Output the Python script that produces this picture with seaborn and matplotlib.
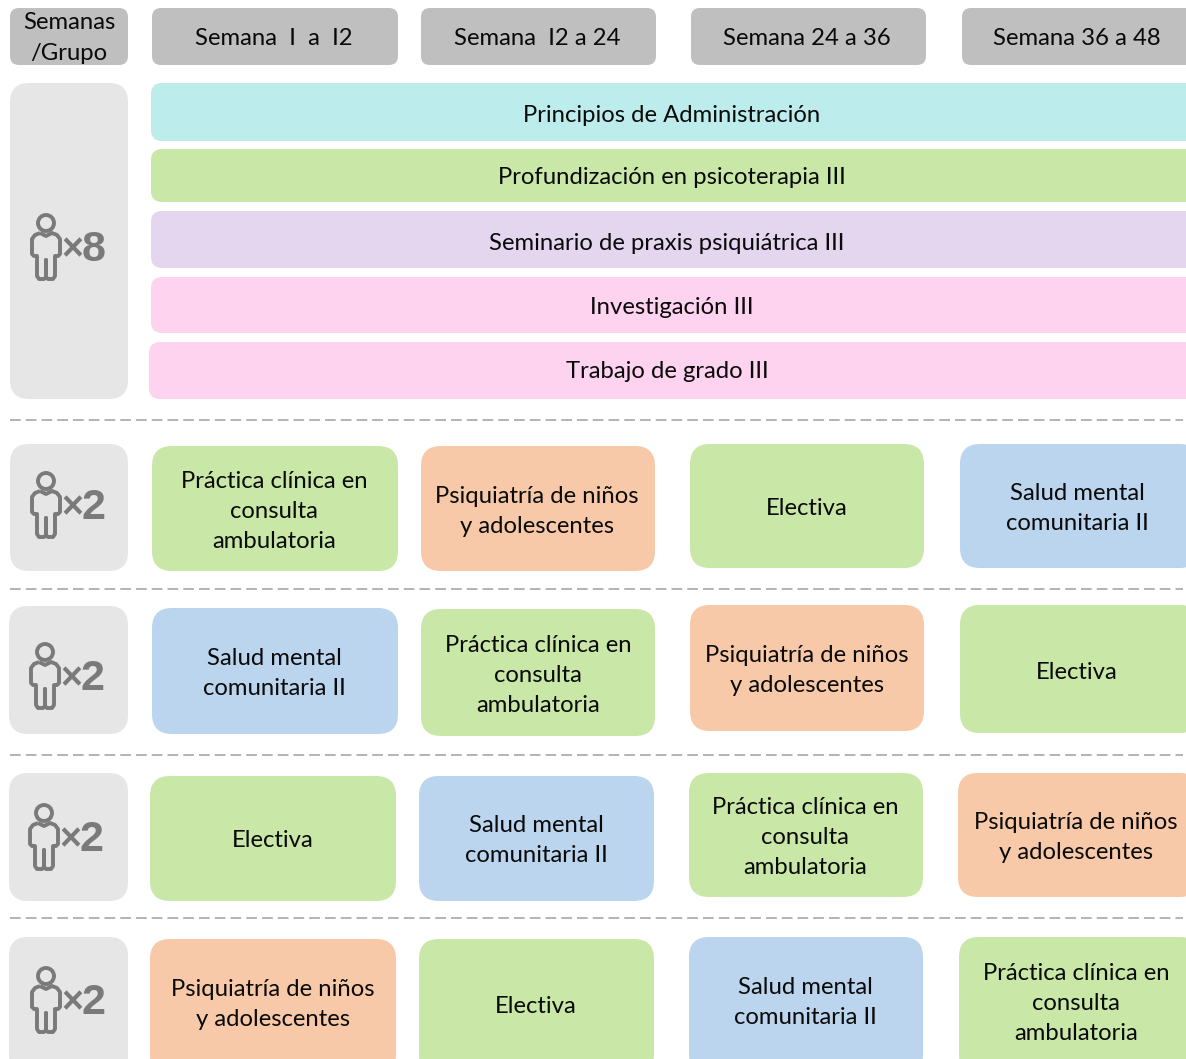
import matplotlib
matplotlib.use('Agg')
import matplotlib.pyplot as plt
import seaborn as sns
from matplotlib.patches import FancyBboxPatch, Circle, PathPatch
from matplotlib.path import Path

# Chart content
corner_label = 'Semanas\n/Grupo'
week_labels = ['Semana  I  a  I2', 'Semana  I2 a 24', 'Semana 24 a 36', 'Semana 36 a 48']
shared_courses = ['Principios de Administración', 'Profundización en psicoterapia III',
                  'Seminario de praxis psiquiátrica III', 'Investigación III', 'Trabajo de grado III']
group_sizes = ['8', '2', '2', '2', '2']

clinica = 'Práctica clínica en\nconsulta\nambulatoria'
ninos = 'Psiquiatría de niños\ny adolescentes'
electiva = 'Electiva'
salud = 'Salud mental\ncomunitaria II'
rotation_rows = [[clinica, ninos, electiva, salud],
                 [salud, clinica, ninos, electiva],
                 [electiva, salud, clinica, ninos],
                 [ninos, electiva, salud, clinica]]

# Colours
sns.set_theme(style='white')
plt.rcParams['font.family'] = ['Lato', 'DejaVu Sans']
shared_colors = sns.color_palette(['#BCEDEC', '#C9E7A7', '#E5D6F0', '#FDD3EF', '#FDD3EF'])
rotation_colors = {clinica: '#C9E7A7', ninos: '#F7C9A8', electiva: '#C9E7A7', salud: '#BBD5EE'}
header_color = '#BFBFBF'
panel_color = '#E6E6E6'
icon_color = '#7A7A7A'
dash_color = '#B3B3B3'
text_color = '#0A0A0A'

# Layout in pixels of the picture: left, top, right, bottom
W, H = 1186, 1059
FONT = 17.2
header_boxes = [(152, 8, 398, 65), (421, 8, 656, 65), (691, 8, 926, 65), (962, 8, 1200, 65)]
header_text_x = [274, 537, 807, 1077]
bar_boxes = [(151, 83, 1200, 141), (151, 149, 1200, 202), (151, 211, 1200, 268),
             (151, 277, 1200, 333), (149, 342, 1200, 399)]
bar_text = [(672, 115), (672, 178), (667, 243), (672, 307.5), (667, 371.5)]
panel_boxes = [(10, 83, 128, 399), (10, 444, 128, 571), (9, 606, 128, 734),
               (9, 773, 128, 901), (9, 937, 128, 1075)]
icon_heads = [(46, 223), (46, 481), (45, 652), (44, 813), (46, 976)]
dash_y = [420, 589, 755, 918]
cell_boxes = [
    [(152, 446, 398, 571), (421, 446, 655, 571), (690, 444, 924, 568), (960, 444, 1200, 568)],
    [(152, 608, 398, 734), (421, 609, 655, 736), (690, 605, 924, 731), (960, 605, 1200, 733)],
    [(150, 776, 396, 901), (419, 776, 654, 901), (689, 773, 923, 897), (958, 773, 1200, 897)],
    [(150, 939, 396, 1075), (419, 939, 654, 1075), (689, 937, 923, 1075), (959, 937, 1200, 1075)],
]
cell_text = [
    [(274, 511.5), (537, 511.5), (807, 508.5), (1077, 508.5)],
    [(274, 673.5), (538, 675.5), (807, 670.5), (1077, 672.5)],
    [(273, 840.5), (536, 840.5), (805, 837.5), (1076, 837.5)],
    [(273, 1004.5), (536, 1006.5), (805, 1002.5), (1076, 1003.5)],
]


def draw_box(ax, box, color, radius):
    left, top, right, bottom = box
    ax.add_patch(FancyBboxPatch((left + radius, top + radius),
                                right - left - 2 * radius, bottom - top - 2 * radius,
                                boxstyle=f'round,pad={radius},rounding_size={radius}',
                                fc=color, ec='none', zorder=1))


def draw_person(ax, x, y):
    # Outline of the little person, relative to the centre of the head
    outline = [(-6, 10), (-11, 12), (-14, 16), (-14, 31), (-12, 33), (-9, 33), (-9, 53), (-7, 56), (-2, 56),
               (0, 54), (0, 37), (0, 54), (2, 56), (7, 56), (9, 53), (9, 33), (12, 33), (14, 31), (14, 16),
               (11, 12), (6, 10), (0, 13), (-6, 10)]
    verts = [(x + dx, y + dy) for dx, dy in outline]
    codes = [Path.MOVETO] + [Path.LINETO] * (len(verts) - 1)
    ax.add_patch(PathPatch(Path(verts, codes), fc='none', ec=icon_color, lw=2.8, joinstyle='round', zorder=2))
    ax.add_patch(Circle((x, y), 8, fc='none', ec=icon_color, lw=2.8, zorder=2))


fig = plt.figure(figsize=(W / 100, H / 100), dpi=100)
ax = fig.add_axes([0, 0, 1, 1])
ax.set_xlim(0, W)
ax.set_ylim(H, 0)
ax.axis('off')

# Header row
draw_box(ax, (10, 8, 128, 65), header_color, 9)
ax.text(69, 38, corner_label, ha='center', va='center', fontsize=FONT, color=text_color, linespacing=1.6)
for box, x, label in zip(header_boxes, header_text_x, week_labels):
    draw_box(ax, box, header_color, 9)
    ax.text(x, 38.5, label, ha='center', va='center', fontsize=FONT, color=text_color)

# Courses shared by the whole group
for box, pos, color, label in zip(bar_boxes, bar_text, shared_colors, shared_courses):
    draw_box(ax, box, color, 11)
    ax.text(pos[0], pos[1], label, ha='center', va='center', fontsize=FONT, color=text_color)

# Group panels with the person icon
for box, head, size in zip(panel_boxes, icon_heads, group_sizes):
    draw_box(ax, box, panel_color, 19)
    draw_person(ax, head[0], head[1])
    ax.text(head[0] + 26, head[1] + 27, '×', ha='center', va='center', fontsize=27,
            fontweight='bold', color=icon_color, family='Liberation Sans')
    ax.text(head[0] + 47.5, head[1] + 27, size, ha='center', va='center', fontsize=31,
            fontweight='bold', color=icon_color, family='Liberation Sans')

# Dashed separators
for y in dash_y:
    ax.plot([10, 1183], [y, y], color=dash_color, lw=1.4, dashes=(5.5, 2.6), zorder=1)

# Rotations
for row, boxes, texts in zip(rotation_rows, cell_boxes, cell_text):
    for label, box, pos in zip(row, boxes, texts):
        draw_box(ax, box, rotation_colors[label], 20)
        ax.text(pos[0], pos[1], label, ha='center', va='center', fontsize=FONT, color=text_color, linespacing=1.53)

fig.savefig('out.png', dpi=100)
